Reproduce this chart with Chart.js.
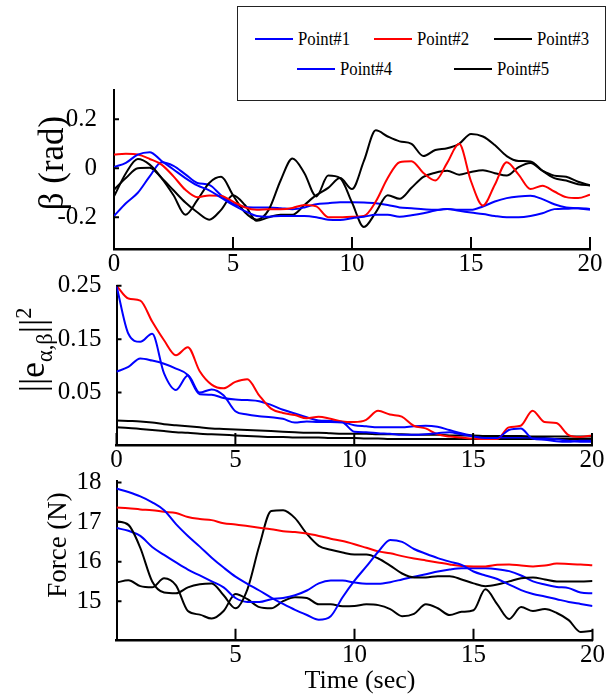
<!DOCTYPE html>
<html>
<head>
<meta charset="utf-8">
<script src="https://cdn.jsdelivr.net/npm/chart.js@4.4.0/dist/chart.umd.min.js"></script>
<style>
  html, body { margin: 0; padding: 0; background: #fff; }
  #wrap { position: relative; width: 606px; height: 698px; overflow: hidden; font-family: "Liberation Serif", "Times New Roman", serif; color: #000; }
  #wrap canvas { position: absolute; left: 0; top: 0; }
  .ylab, .xlab { position: absolute; white-space: nowrap; line-height: 1; }
  .ylab { transform: translate(-50%, -50%) rotate(-90deg); }
  .xlab { transform: translate(-50%, -50%); }
  .ylab sub, .ylab sup { font-size: 0.62em; }
  #legend { position: absolute; left: 237px; top: 6px; width: 369px; height: 95px; border: 1.5px solid #222; box-sizing: border-box; background: #fff; }
  .item { position: absolute; height: 20px; display: flex; align-items: center; font-size: 18px; white-space: nowrap; }
  .item span { display: inline-block; transform: scale(0.93, 1.1); transform-origin: left center; }
  .item i { display: inline-block; width: 38px; height: 2px; margin-right: 5px; }
</style>
</head>
<body>
<div id="wrap">
  <canvas id="cBeta" width="606" height="698"></canvas>
  <canvas id="cErr" width="606" height="698"></canvas>
  <canvas id="cForce" width="606" height="698"></canvas>
  <div id="legend"></div>
  <div class="ylab" style="left:51px;top:163px;font-size:35px">β (rad)</div>
  <div class="ylab" style="left:35px;top:350px;font-size:36px">||e<sub>α,β</sub>||<sup>2</sup></div>
  <div class="ylab" style="left:57px;top:545px;font-size:27px">Force (N)</div>
  <div class="xlab" style="left:360px;top:680px;font-size:26px">Time (sec)</div>
</div>
<script>
// temps (s)
const time = [0, 0.5, 1, 1.5, 2, 2.5, 3, 3.5, 4, 4.5, 5, 5.5, 6, 6.5, 7, 7.5, 8, 8.5, 9, 9.5,
  10, 10.5, 11, 11.5, 12, 12.5, 13, 13.5, 14, 14.5, 15, 15.5, 16, 16.5, 17, 17.5, 18, 18.5, 19, 19.5, 20];

const seriesNames = ['Point#1', 'Point#2', 'Point#3', 'Point#4', 'Point#5'];
const seriesColors = ['#0000ff', '#ff0000', '#000000', '#0000ff', '#000000'];

// beta (rad)
const betaP1 = [0.005, 0.022, 0.056, 0.066, 0.03, -0.005, -0.04, -0.07, -0.09, -0.12, -0.15, -0.175, -0.195, -0.198, -0.195, -0.195, -0.195, -0.2, -0.21, -0.211,
  -0.204, -0.198, -0.19, -0.19, -0.198, -0.192, -0.184, -0.173, -0.166, -0.174, -0.181, -0.187, -0.195, -0.2, -0.2, -0.195, -0.184, -0.167, -0.165, -0.163, -0.166];
const betaP2 = [0.056, 0.059, 0.056, 0.038, 0.015, -0.033, -0.088, -0.118, -0.111, -0.113, -0.136, -0.16, -0.17, -0.167, -0.167, -0.162, -0.15, -0.156, -0.2, -0.2,
  -0.198, -0.195, -0.136, -0.04, 0.025, 0.029, -0.019, -0.05, 0.022, 0.1, -0.053, -0.152, -0.067, 0.025, -0.026, -0.085, -0.071, -0.095, -0.118, -0.122, -0.108];
const betaP3 = [-0.115, -0.02, 0.038, 0.015, -0.04, -0.11, -0.19, -0.13, -0.06, -0.035, -0.11, -0.18, -0.21, -0.17, -0.05, 0.04, -0.02, -0.115, -0.03, -0.04,
  -0.14, -0.24, -0.18, -0.11, -0.125, -0.08, -0.035, -0.018, -0.01, -0.026, -0.015, -0.008, -0.02, -0.03, 0.005, 0.022, -0.01, -0.03, -0.035, -0.055, -0.07];
const betaP4 = [-0.195, -0.143, -0.1, -0.033, 0.025, 0.01, -0.025, -0.06, -0.068, -0.11, -0.145, -0.158, -0.16, -0.16, -0.163, -0.167, -0.16, -0.147, -0.143, -0.139,
  -0.139, -0.14, -0.143, -0.15, -0.16, -0.163, -0.167, -0.17, -0.166, -0.17, -0.17, -0.156, -0.136, -0.122, -0.115, -0.112, -0.126, -0.147, -0.16, -0.163, -0.17];
const betaP5 = [-0.088, -0.04, 0.0, 0.002, -0.04, -0.09, -0.14, -0.18, -0.21, -0.17, -0.11, -0.15, -0.215, -0.2, -0.19, -0.19, -0.15, -0.11, -0.08, -0.04,
  -0.085, 0.03, 0.155, 0.13, 0.11, 0.1, 0.05, 0.075, 0.082, 0.1, 0.14, 0.13, 0.095, 0.05, 0.03, 0.028, -0.01, -0.04, -0.05, -0.065, -0.07];

// ||e||^2
const errP1 = [0.25, 0.16, 0.145, 0.16, 0.086, 0.055, 0.082, 0.05, 0.056, 0.045, 0.015, 0.009, 0.006, 0.004, 0.001, -0.006, -0.004, -0.005, -0.005, -0.006,
  -0.023, -0.024, -0.026, -0.027, -0.029, -0.029, -0.028, -0.026, -0.024, -0.028, -0.032, -0.035, -0.035, -0.02, -0.017, -0.036, -0.038, -0.041, -0.042, -0.04, -0.04];
const errP2 = [0.25, 0.226, 0.222, 0.183, 0.148, 0.12, 0.135, 0.09, 0.065, 0.058, 0.07, 0.075, 0.045, 0.02, 0.012, 0.008, 0.002, 0.005, 0.001, -0.004,
  -0.005, -0.001, 0.016, 0.009, 0.005, -0.012, -0.017, -0.028, -0.032, -0.034, -0.036, -0.037, -0.037, -0.015, -0.012, 0.016, -0.005, -0.007, -0.029, -0.033, -0.03];
const errP3 = [-0.002, -0.003, -0.004, -0.006, -0.009, -0.011, -0.013, -0.015, -0.017, -0.018, -0.019, -0.02, -0.021, -0.022, -0.023, -0.024, -0.025, -0.025, -0.026, -0.027,
  -0.027, -0.027, -0.028, -0.028, -0.028, -0.029, -0.029, -0.029, -0.03, -0.03, -0.03, -0.031, -0.031, -0.031, -0.031, -0.032, -0.032, -0.032, -0.032, -0.032, -0.032];
const errP4 = [0.089, 0.098, 0.114, 0.11, 0.104, 0.095, 0.083, 0.047, 0.046, 0.04, 0.037, 0.036, 0.034, 0.027, 0.018, 0.011, 0.004, -0.002, -0.003, -0.005,
  -0.011, -0.013, -0.015, -0.015, -0.015, -0.013, -0.012, -0.014, -0.02, -0.026, -0.031, -0.033, -0.034, -0.034, -0.034, -0.034, -0.035, -0.037, -0.04, -0.042, -0.042];
const errP5 = [-0.015, -0.016, -0.018, -0.02, -0.022, -0.024, -0.025, -0.027, -0.028, -0.029, -0.03, -0.031, -0.032, -0.033, -0.033, -0.034, -0.034, -0.034, -0.035, -0.035,
  -0.035, -0.036, -0.036, -0.037, -0.037, -0.037, -0.037, -0.037, -0.037, -0.037, -0.037, -0.037, -0.037, -0.037, -0.037, -0.037, -0.037, -0.037, -0.037, -0.037, -0.037];

// force (N)
const forceP1 = [17.85, 17.76, 17.65, 17.5, 17.3, 16.95, 16.65, 16.38, 16.1, 15.85, 15.62, 15.44, 15.27, 15.09, 14.93, 14.78, 14.65, 14.53, 14.62, 15.1,
  15.52, 15.88, 16.25, 16.55, 16.5, 16.32, 16.2, 16.09, 16.0, 15.92, 15.75, 15.65, 15.56, 15.42, 15.28, 15.18, 15.12, 15.05, 14.98, 14.93, 14.88];
const forceP2 = [17.37, 17.35, 17.32, 17.3, 17.26, 17.23, 17.13, 17.08, 17.05, 16.97, 16.94, 16.9, 16.86, 16.82, 16.77, 16.75, 16.71, 16.65, 16.58, 16.52,
  16.44, 16.35, 16.26, 16.21, 16.14, 16.08, 16.03, 15.98, 15.93, 15.89, 15.88, 15.88, 15.92, 15.93, 15.9, 15.88, 15.9, 15.95, 15.94, 15.93, 15.91];
const forceP3 = [17.02, 16.93, 16.35, 15.5, 15.22, 15.2, 15.35, 15.43, 15.45, 15.15, 14.82, 15.3, 16.4, 17.28, 17.3, 17.1, 16.7, 16.4, 16.3, 16.23,
  16.18, 16.18, 16.08, 15.9, 15.7, 15.6, 15.6, 15.63, 15.63, 15.55, 15.45, 15.38, 15.42, 15.5, 15.58, 15.6, 15.55, 15.5, 15.5, 15.5, 15.51];
const forceP4 = [16.85, 16.78, 16.65, 16.37, 16.17, 15.98, 15.8, 15.65, 15.5, 15.35, 15.08, 14.98, 14.98, 15.05, 15.08, 15.15, 15.27, 15.45, 15.52, 15.52,
  15.47, 15.44, 15.44, 15.48, 15.55, 15.62, 15.68, 15.75, 15.8, 15.83, 15.83, 15.83, 15.81, 15.76, 15.65, 15.5, 15.42, 15.36, 15.33, 15.22, 15.2];
const forceP5 = [15.47, 15.53, 15.38, 15.35, 15.58, 15.4, 14.75, 14.66, 14.56, 14.75, 15.18, 15.05, 14.85, 14.82, 15.0, 15.1, 15.08, 14.92, 14.92, 14.87,
  14.88, 14.92, 14.9, 14.8, 14.62, 14.68, 14.92, 14.82, 14.65, 14.73, 14.77, 15.3, 14.92, 14.55, 14.85, 14.75, 14.8, 14.7, 14.52, 14.22, 14.25];

// ticks
const betaTicks = [-0.2, 0, 0.2];
const errTicks = [0.05, 0.15, 0.25];
const forceTicks = [15, 16, 17, 18];
const timeTicksTop = [0, 5, 10, 15, 20];
const timeTicksBottom = [5, 10, 15, 20];

const serif = '"Liberation Serif", "Times New Roman", serif';
Chart.defaults.font.family = serif;
Chart.defaults.color = '#000';

// petits traits de graduation vers l'intérieur
const inwardTicks = {
  id: 'inwardTicks',
  afterDatasetsDraw(chart, args, opts) {
    const { ctx, chartArea: a, scales: { x, y } } = chart;
    ctx.save();
    ctx.strokeStyle = '#000';
    ctx.lineWidth = 2;
    ctx.beginPath();
    x.ticks.forEach(t => {
      const px = x.getPixelForValue(t.value);
      ctx.moveTo(px, a.bottom);
      ctx.lineTo(px, a.bottom - opts.xLen);
    });
    y.ticks.forEach(t => {
      const py = y.getPixelForValue(t.value);
      ctx.moveTo(a.left, py);
      ctx.lineTo(a.left + opts.yLen, py);
    });
    ctx.stroke();
    ctx.restore();
  }
};

function buildChart(id, series, box, yMin, yMax, yTicks, yFmt, xTicks) {
  return new Chart(document.getElementById(id), {
    type: 'line',
    data: {
      datasets: series.map((vals, i) => ({
        label: seriesNames[i],
        data: vals.map((v, k) => ({ x: time[k], y: v })),
        borderColor: seriesColors[i],
        backgroundColor: seriesColors[i],
        borderWidth: 2,
        pointRadius: 0,
        fill: false,
        cubicInterpolationMode: 'monotone'
      }))
    },
    options: {
      responsive: false,
      animation: false,
      devicePixelRatio: 1,
      events: [],
      layout: {
        autoPadding: false,
        padding: { left: 0, top: box.top, right: 606 - box.right, bottom: 698 - box.bottom - 30 }
      },
      plugins: {
        legend: { display: false },
        tooltip: { enabled: false },
        inwardTicks: { xLen: 12, yLen: 5 }
      },
      scales: {
        x: {
          type: 'linear',
          min: 0,
          max: 20,
          afterFit: s => { s.height = 30; },
          afterBuildTicks: s => { s.ticks = xTicks.map(v => ({ value: v })); },
          grid: { display: false },
          border: { color: '#000', width: 2.5 },
          ticks: { padding: -8, font: { size: 25, family: serif }, maxRotation: 0, autoSkip: false, callback: v => String(v) }
        },
        y: {
          min: yMin,
          max: yMax,
          afterFit: s => { s.width = box.left; },
          afterBuildTicks: s => { s.ticks = yTicks.map(v => ({ value: v })); },
          grid: { display: false },
          border: { color: '#000', width: 2 },
          ticks: { padding: box.pad, font: { size: 25, family: serif }, autoSkip: false, callback: yFmt }
        }
      }
    },
    plugins: [inwardTicks]
  });
}

function drawAll() {
  buildChart('cBeta', [betaP1, betaP2, betaP3, betaP4, betaP5],
    { left: 114, right: 590, top: 90, bottom: 249, pad: 9 }, -0.33, 0.32, betaTicks,
    v => (v === 0 ? '0' : v.toFixed(1)), timeTicksTop);

  buildChart('cErr', [errP1, errP2, errP3, errP4, errP5],
    { left: 116.5, right: 592, top: 285.7, bottom: 445, pad: 7 }, -0.048, 0.25, errTicks,
    v => v.toFixed(2), timeTicksTop);

  buildChart('cForce', [forceP1, forceP2, forceP3, forceP4, forceP5],
    { left: 116.5, right: 592.5, top: 481, bottom: 640.7, pad: 7 }, 14, 18.04, forceTicks,
    v => String(v), timeTicksBottom);
}

// légende
const legendSlots = [[16.5, 21.5], [135.5, 21.5], [255.5, 21.5], [58.5, 51.5], [215.5, 51.5]];
const legend = document.getElementById('legend');
seriesNames.forEach((name, i) => {
  const it = document.createElement('div');
  it.className = 'item';
  it.style.left = legendSlots[i][0] + 'px';
  it.style.top = legendSlots[i][1] + 'px';
  it.innerHTML = '<i style="background:' + seriesColors[i] + '"></i><span>' + name + '</span>';
  legend.appendChild(it);
});

// attendre la police avant de dessiner sur le canvas
document.fonts.load('25px "Liberation Serif"').catch(() => {}).then(drawAll);
</script>
</body>
</html>
